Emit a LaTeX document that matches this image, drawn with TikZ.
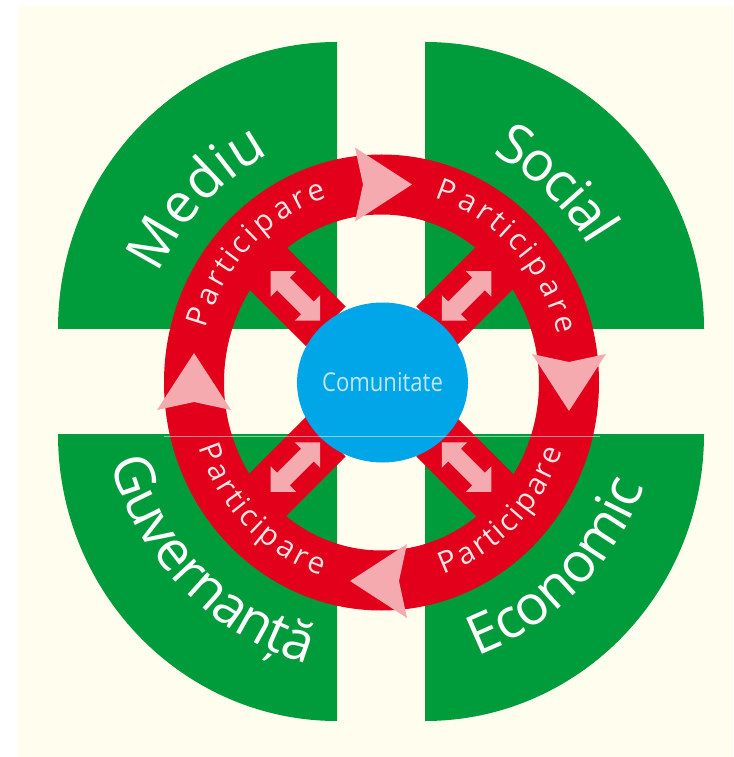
\documentclass[tikz,border=0pt]{standalone}
\usepackage{fontspec}
\setmainfont{Open Sans}
\newfontfamily\comfont[FakeStretch=0.85]{Open Sans}
\usetikzlibrary{decorations.text,shapes.geometric}
\definecolor{leafgreen}{RGB}{0,155,58}
\definecolor{ringred}{RGB}{226,0,26}
\definecolor{softpink}{RGB}{245,170,175}
\definecolor{skyblue}{RGB}{0,166,232}
\definecolor{paper}{RGB}{255,253,238}
\definecolor{partwhite}{RGB}{253,228,230}
\definecolor{comtext}{RGB}{190,230,248}
\newcommand\bigfont{\fontsize{55}{55}\selectfont}
\newcommand\partfont{\fontsize{30}{30}\selectfont}
\tikzset{
  quarter/.style={fill=leafgreen},
  spoke/.style={fill=ringred},
  ringtip/.style={fill=softpink},
  bigword/.style={decorate,decoration={text effects along path,text={#1},
    text effects/.cd,text along path,fit text to path,
    characters={text=white,font=\bigfont}}},
  partword/.style={decorate,decoration={text effects along path,text={#1},
    text effects/.cd,text along path,fit text to path,
    characters={text=partwhite,font=\partfont}}},
}
\begin{document}
\begin{tikzpicture}[x=1pt,y=1pt]
  \useasboundingbox (-381,-375.5) rectangle (352,381.5);
  \fill[white] (-381,-375.5) rectangle (352,381.5);
  \fill[paper] (-363,-375.5) rectangle (352,375.5);
  % green quarters
  \fill[quarter] (-44,52.5) -- ++(-279,0) arc[start angle=180,end angle=90,x radius=279,y radius=287] -- cycle;
  \fill[quarter] (44,52.5) -- ++(0,287) arc[start angle=90,end angle=0,x radius=279,y radius=287] -- cycle;
  \fill[quarter] (-44,-52.5) -- ++(-279,0) arc[start angle=180,end angle=270,x radius=279,y radius=287] -- cycle;
  \fill[quarter] (44,-52.5) -- ++(279,0) arc[start angle=0,end angle=-90,x radius=279,y radius=287] -- cycle;
  % red ring and spokes
  \fill[ringred,even odd rule] (0.5,-1) ellipse[x radius=217.5,y radius=228]
    (0.5,-1) ellipse[x radius=157.5,y radius=168];
  \foreach \a in {45,135,225,315}
    \fill[spoke,rotate=\a] (78,-28) rectangle (192,28);
  % arrow heads on the ring
  \foreach \p/\r in {{(-26,197)}/0,{(188,27.5)}/-90,{(26,-199.5)}/180,{(-187,-28.5)}/90}
    \fill[ringtip,shift={\p},rotate=\r] (0,-37) -- (57,0) -- (0,37) -- (8,0) -- cycle;
  % double arrows
  \foreach \a in {45,135,225,315}
    \fill[ringtip,rotate=\a] (86,0) -- (104,18) -- (104,9) -- (138,9) -- (138,18)
      -- (156,0) -- (138,-18) -- (138,-9) -- (104,-9) -- (104,-18) -- cycle;
  \node[ellipse,fill=skyblue,minimum width=152,minimum height=160,inner sep=0pt,
    text=comtext,font=\comfont\fontsize{26}{26}\selectfont] (com) at (1.5,-1) {Comunitate};
  \draw[white,opacity=0.5,line width=0.8pt] (-217,-54.5) -- (219,-54.5);
  % labels
  \path[bigword=Mediu] (155:245 and 255) arc[start angle=155,end angle=117,x radius=245,y radius=255];
  \path[bigword=Social] (63:245 and 255) arc[start angle=63,end angle=32,x radius=245,y radius=255];
  \path[bigword=Guvernanță] (196:282 and 292) arc[start angle=196,end angle=255,x radius=282,y radius=292];
  \path[bigword=Economic] (290:282 and 292) arc[start angle=290,end angle=339,x radius=282,y radius=292];
  \path[partword=Participare] (164:182 and 192) arc[start angle=164,end angle=107,x radius=182,y radius=192];
  \path[partword=Participare] (73:182 and 192) arc[start angle=73,end angle=14,x radius=182,y radius=192];
  \path[partword=Participare] (199:193 and 204) arc[start angle=199,end angle=252,x radius=193,y radius=204];
  \path[partword=Participare] (289:193 and 204) arc[start angle=289,end angle=340,x radius=193,y radius=204];
\end{tikzpicture}
\end{document}
